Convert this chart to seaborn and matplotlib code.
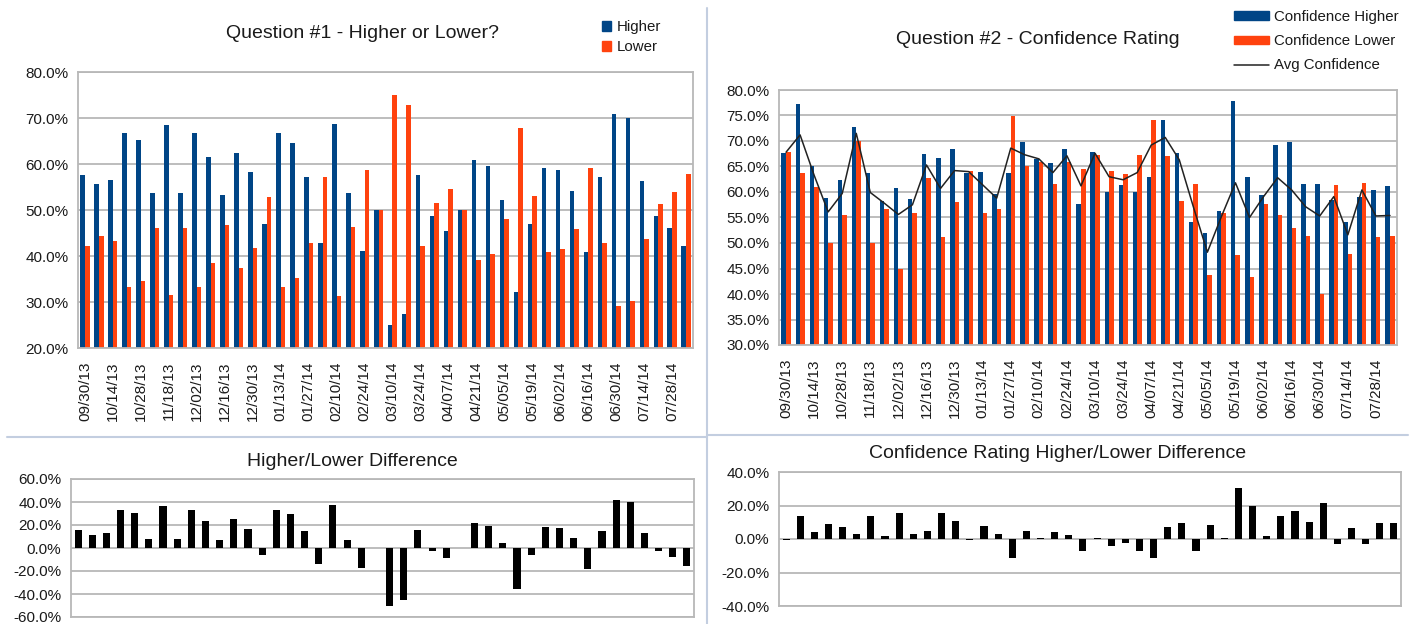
import numpy as np
import pandas as pd
import matplotlib
matplotlib.use('Agg')
import matplotlib.pyplot as plt
import seaborn as sns
from matplotlib.patches import Patch
from matplotlib.lines import Line2D

# weekly survey dates (one week is missing in Nov 2013)
weeks = ['09/30/13', '10/07/13', '10/14/13', '10/21/13', '10/28/13', '11/04/13',
         '11/18/13', '11/25/13', '12/02/13', '12/09/13', '12/16/13', '12/23/13',
         '12/30/13', '01/06/14', '01/13/14', '01/20/14', '01/27/14', '02/03/14',
         '02/10/14', '02/17/14', '02/24/14', '03/03/14', '03/10/14', '03/17/14',
         '03/24/14', '03/31/14', '04/07/14', '04/14/14', '04/21/14', '04/28/14',
         '05/05/14', '05/12/14', '05/19/14', '05/26/14', '06/02/14', '06/09/14',
         '06/16/14', '06/23/14', '06/30/14', '07/07/14', '07/14/14', '07/21/14',
         '07/28/14', '08/04/14']

q1_higher = [57.7, 55.7, 56.6, 66.7, 65.3, 53.8, 68.4, 53.8, 66.7, 61.5, 53.3, 62.5,
             58.3, 47.0, 66.7, 64.6, 57.2, 42.8, 68.7, 53.6, 41.1, 50.0, 24.9, 27.3,
             57.7, 48.6, 45.5, 50.0, 60.9, 59.6, 52.1, 32.1, 46.9, 59.1, 58.6, 54.2,
             40.8, 57.2, 70.8, 69.9, 56.4, 48.8, 46.0, 42.1]
q1_lower = [42.2, 44.4, 43.3, 33.3, 34.6, 46.1, 31.6, 46.1, 33.3, 38.4, 46.7, 37.5,
            41.7, 52.9, 33.3, 35.3, 42.8, 57.1, 31.3, 46.4, 58.8, 50.0, 74.9, 72.8,
            42.2, 51.5, 54.5, 50.0, 39.1, 40.4, 48.0, 67.8, 53.1, 40.8, 41.5, 45.9,
            59.1, 42.8, 29.2, 30.2, 43.6, 51.2, 53.9, 57.9]
q1_diff = [15.5, 11.3, 13.3, 33.4, 30.7, 7.7, 36.8, 7.7, 33.4, 23.1, 6.6, 25.0,
           16.6, -5.9, 33.4, 29.3, 14.4, -14.3, 37.4, 7.2, -17.7, 0.0, -50.0, -45.5,
           15.5, -2.9, -9.0, 0.0, 21.8, 19.2, 4.1, -35.7, -6.2, 18.3, 17.1, 8.3,
           -18.3, 14.4, 41.6, 39.7, 12.8, -2.4, -7.9, -15.8]

q2_higher = [67.6, 77.3, 65.0, 58.9, 62.4, 72.7, 63.8, 58.2, 60.7, 58.6, 67.5, 66.6,
             68.5, 63.8, 63.9, 59.7, 63.7, 69.9, 66.4, 65.6, 68.5, 57.6, 67.9, 60.0,
             61.3, 60.0, 63.0, 74.2, 67.6, 54.2, 52.0, 56.2, 77.9, 63.0, 59.5, 69.2,
             69.9, 61.5, 61.5, 58.4, 54.2, 59.0, 60.4, 61.2]
q2_lower = [67.9, 63.7, 61.0, 50.0, 55.5, 70.0, 50.0, 56.7, 45.0, 55.9, 62.7, 51.1,
            58.0, 64.2, 55.9, 56.7, 74.9, 65.0, 65.8, 61.6, 65.9, 64.5, 67.3, 64.2,
            63.6, 67.2, 74.1, 67.1, 58.2, 61.6, 43.8, 55.8, 47.6, 43.4, 57.6, 55.4,
            53.0, 51.3, 40.0, 61.4, 47.9, 61.8, 51.1, 51.4]
q2_avg = [67.8, 71.2, 63.3, 56.1, 59.7, 71.5, 59.9, 57.8, 55.6, 57.5, 65.3, 60.7,
          64.2, 64.0, 61.4, 58.8, 68.6, 67.3, 66.5, 63.8, 67.1, 61.2, 67.6, 63.0,
          62.4, 63.8, 69.2, 70.7, 66.3, 57.1, 48.2, 55.2, 61.8, 55.0, 59.1, 62.8,
          60.4, 57.1, 55.3, 59.1, 51.6, 60.4, 55.3, 55.4]
q2_diff = [-0.3, 13.6, 4.0, 8.9, 6.9, 2.7, 13.8, 1.5, 15.7, 2.7, 4.8, 15.5,
           10.5, -0.4, 8.0, 3.0, -11.2, 4.9, 0.6, 4.0, 2.6, -6.9, 0.6, -4.2,
           -2.3, -7.2, -11.1, 7.1, 9.4, -7.4, 8.2, 0.4, 30.3, 19.6, 1.9, 13.8,
           16.9, 10.2, 21.5, -3.0, 6.3, -2.8, 9.3, 9.8]

q1_yticks = [20, 30, 40, 50, 60, 70, 80]
q2_yticks = [30, 35, 40, 45, 50, 55, 60, 65, 70, 75, 80]
q1_diff_yticks = [-60, -40, -20, 0, 20, 40, 60]
q2_diff_yticks = [-40, -20, 0, 20, 40]

BLUE = '#004586'
ORANGE = '#ff420e'
GRID = '#b8b8b8'
SEP = '#c3cee0'
TXT = '#1a1a1a'
W, H = 1413, 624

sns.set_style('white')
plt.rcParams['font.family'] = ['Liberation Sans', 'DejaVu Sans']

idx = list(range(len(weeks)))
n = len(weeks)

q1_df = pd.DataFrame({'week': idx * 2,
                      'pct': q1_higher + q1_lower,
                      'series': ['Higher'] * n + ['Lower'] * n})
q2_df = pd.DataFrame({'week': idx * 2,
                      'pct': q2_higher + q2_lower,
                      'series': ['Confidence Higher'] * n + ['Confidence Lower'] * n})

fig = plt.figure(figsize=(W / 100, H / 100), dpi=100)


def px_axes(x0, y0, x1, y1):
    return fig.add_axes([x0 / W, 1 - y1 / H, (x1 - x0) / W, (y1 - y0) / H])


def style(ax, yticks):
    ax.set_ylim(yticks[0], yticks[-1])
    ax.set_yticks(yticks)
    ax.set_yticklabels([f'{v:.1f}%' for v in yticks])
    ax.yaxis.grid(True, color=GRID, lw=1.3)
    ax.set_axisbelow(True)
    for s in ax.spines.values():
        s.set_color(GRID)
        s.set_linewidth(1.3)
    ax.tick_params(axis='y', length=4, width=1.3, color=GRID, pad=3,
                   labelsize=11, labelcolor=TXT)
    ax.set_xlabel('')
    ax.set_ylabel('')


def date_axis(ax):
    ax.set_xticks(idx[::2])
    ax.set_xticklabels(weeks[::2], rotation=90)
    ax.set_xticks(np.arange(-0.5, n, 1), minor=True)
    ax.tick_params(axis='x', which='major', length=0, pad=10,
                   labelsize=11, labelcolor=TXT)
    ax.tick_params(axis='x', which='minor', length=4, width=1.3, color=GRID)
    ax.set_xlim(-0.5, n - 0.5)


# Question 1
ax1 = px_axes(78, 72, 693, 348)
sns.barplot(data=q1_df, x='week', y='pct', hue='series', palette=[BLUE, ORANGE],
            width=0.65, saturation=1, linewidth=0, legend=False, ax=ax1)
style(ax1, q1_yticks)
date_axis(ax1)

# Question 2
ax2 = px_axes(779, 90, 1397, 345)
sns.barplot(data=q2_df, x='week', y='pct', hue='series', palette=[BLUE, ORANGE],
            width=0.65, saturation=1, linewidth=0, legend=False, ax=ax2)
sns.lineplot(x=idx, y=q2_avg, color='#222222', lw=1.1, legend=False, ax=ax2)
style(ax2, q2_yticks)
date_axis(ax2)

# differences
ax3 = px_axes(71, 479, 694, 617)
sns.barplot(x=idx, y=q1_diff, color='black', width=0.5, saturation=1,
            linewidth=0, ax=ax3)
style(ax3, q1_diff_yticks)
ax3.set_xticks([])
ax3.set_xlim(-0.5, n - 0.5)

ax4 = px_axes(779, 472, 1401, 606)
sns.barplot(x=idx, y=q2_diff, color='black', width=0.5, saturation=1,
            linewidth=0, ax=ax4)
style(ax4, q2_diff_yticks)
ax4.set_xticks([])
ax4.set_xlim(-0.5, n - 0.5)

# titles
fig.text(362 / W, 1 - 34 / H, 'Question #1 - Higher or Lower?', ha='center', va='center',
         fontsize=14, color=TXT)
fig.text(1038 / W, 1 - 39 / H, 'Question #2 - Confidence Rating', ha='center', va='center',
         fontsize=14, color=TXT)
fig.text(352 / W, 1 - 461 / H, 'Higher/Lower Difference', ha='center', va='center',
         fontsize=14, color=TXT)
fig.text(1058 / W, 1 - 454 / H, 'Confidence Rating Higher/Lower Difference', ha='center',
         va='center', fontsize=14, color=TXT)

# legends
fig.legend(handles=[Patch(color=BLUE), Patch(color=ORANGE)], labels=['Higher', 'Lower'],
           loc='upper left', bbox_to_anchor=(602 / W, 1 - 20 / H), frameon=False,
           fontsize=10.8, handlelength=0.62, handleheight=0.62, handletextpad=0.35,
           labelspacing=0.42, borderpad=0, borderaxespad=0, labelcolor=TXT)
fig.legend(handles=[Patch(color=BLUE), Patch(color=ORANGE),
                    Line2D([], [], color='#222222', lw=1.1)],
           labels=['Confidence Higher', 'Confidence Lower', 'Avg Confidence'],
           loc='upper left', bbox_to_anchor=(1234 / W, 1 - 10 / H), frameon=False,
           fontsize=10.8, handlelength=2.35, handleheight=0.5, handletextpad=0.3,
           labelspacing=0.68, borderpad=0, borderaxespad=0, labelcolor=TXT)

# panel separators
fig.add_artist(Line2D([707 / W, 707 / W], [1 - 8 / H, 0], color=SEP, lw=1.5,
                      transform=fig.transFigure))
fig.add_artist(Line2D([7 / W, 707 / W], [1 - 437 / H, 1 - 437 / H], color=SEP, lw=1.5,
                      transform=fig.transFigure))
fig.add_artist(Line2D([707 / W, 1408 / W], [1 - 435 / H, 1 - 435 / H], color=SEP, lw=1.5,
                      transform=fig.transFigure))

fig.savefig('out.png', dpi=100)
